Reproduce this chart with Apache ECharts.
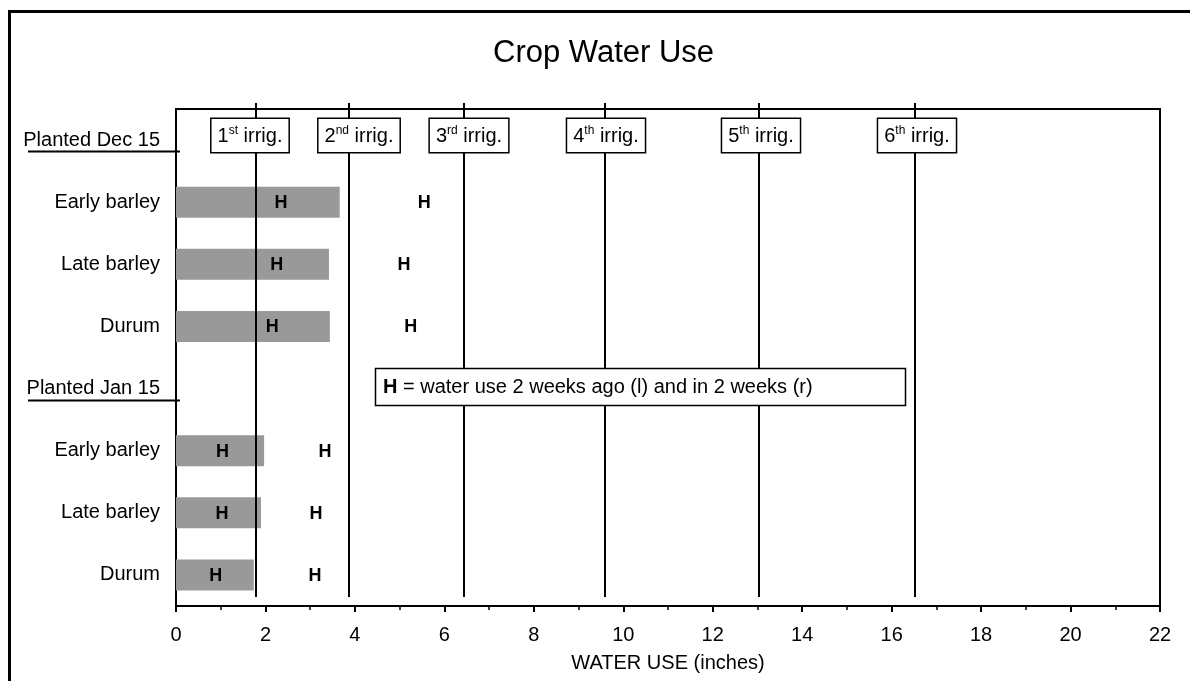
<!DOCTYPE html>
<html>
<head>
<meta charset="utf-8">
<title>Crop Water Use</title>
<script src="https://cdn.jsdelivr.net/npm/echarts@6/dist/echarts.min.js"></script>
<style>
  html, body { margin: 0; padding: 0; background: #fff; }
  #chart { width: 1190px; height: 681px; }
</style>
</head>
<body>
<div id="chart"></div>
<script>
  // rows from top to bottom; the "Planted" rows are group headers with no bar
  const rowLabels = [
    "Planted Dec 15", "Early barley", "Late barley", "Durum",
    "Planted Jan 15", "Early barley", "Late barley", "Durum"
  ];
  const headerRows = [0, 4];

  // water use to date (inches)
  const waterUseNow = [null, 3.66, 3.42, 3.44, null, 1.97, 1.90, 1.74];
  // "H" marks: water use 2 weeks ago (left) and in 2 weeks (right)
  const useTwoWeeksAgo = [null, 2.35, 2.25, 2.15, null, 1.04, 1.03, 0.89];
  const useInTwoWeeks = [null, 5.55, 5.10, 5.25, null, 3.33, 3.13, 3.11];

  // irrigation thresholds (inches)
  const irrigations = [1.79, 3.87, 6.45, 9.59, 13.03, 16.53];
  const irrigNumbers = ["1", "2", "3", "4", "5", "6"];
  const irrigSuffixes = ["st", "nd", "rd", "th", "th", "th"];

  const xTicks = [0, 2, 4, 6, 8, 10, 12, 14, 16, 18, 20, 22];

  const FONT = "'Liberation Sans', Arial, sans-serif";
  // small horizontal nudges of the irrigation boxes relative to their lines (px)
  const boxNudge = [-6, 10, 5, 1, 2, 2];

  const chart = echarts.init(document.getElementById("chart"), null, { renderer: "canvas" });

  function markPoints(values) {
    const out = [];
    values.forEach((v, i) => {
      if (v !== null) {
        out.push([v, i]);
      }
    });
    return out;
  }

  function renderH(params, api) {
    const pt = api.coord([api.value(0), api.value(1)]);
    return {
      type: "text",
      style: {
        text: "H",
        x: pt[0],
        y: pt[1] + 1,
        align: "center",
        verticalAlign: "middle",
        font: "bold 18px " + FONT,
        fill: "#000"
      }
    };
  }

  const option = {
    animation: false,
    backgroundColor: "#fff",
    title: {
      text: "Crop Water Use",
      left: 488,
      top: 33,
      textStyle: { fontFamily: FONT, fontSize: 31, fontWeight: "normal", color: "#000" }
    },
    grid: {
      left: 176,
      right: 30,
      top: 109,
      bottom: 75,
      show: true,
      borderColor: "#000",
      borderWidth: 2,
      backgroundColor: "transparent"
    },
    xAxis: {
      type: "value",
      min: xTicks[0],
      max: xTicks[xTicks.length - 1],
      interval: 2,
      name: "WATER USE (inches)",
      nameLocation: "middle",
      nameGap: 47,
      nameTextStyle: { fontFamily: FONT, fontSize: 20, color: "#000" },
      axisLine: { show: true, lineStyle: { color: "#000", width: 2 } },
      axisTick: { show: true, length: 6, lineStyle: { color: "#000", width: 2 } },
      minorTick: { show: true, splitNumber: 2, length: 4, lineStyle: { color: "#000", width: 1.5 } },
      axisLabel: { fontFamily: FONT, fontSize: 20, color: "#000", margin: 19 },
      splitLine: { show: false }
    },
    yAxis: {
      type: "category",
      inverse: true,
      data: rowLabels,
      axisLine: { show: true, lineStyle: { color: "#000", width: 2 } },
      axisTick: { show: false },
      axisLabel: { fontFamily: FONT, fontSize: 20, color: "#000", margin: 16 },
      splitLine: { show: false }
    },
    series: [
      {
        name: "Water use",
        type: "bar",
        data: waterUseNow,
        barWidth: 31,
        itemStyle: { color: "#999999" },
        z: 2
      },
      {
        name: "Irrigations",
        type: "custom",
        clip: false,
        z: 3,
        data: irrigations.map((v, i) => [v, i]),
        renderItem(params, api) {
          const cs = params.coordSys;
          const i = api.value(1);
          const x = Math.round(api.coord([api.value(0), 0])[0]);
          return {
            type: "group",
            children: [
              {
                type: "line",
                shape: { x1: x, y1: cs.y - 6, x2: x, y2: cs.y + cs.height - 9 },
                style: { stroke: "#000", lineWidth: 2 }
              },
              {
                type: "text",
                style: {
                  text: irrigNumbers[i] + "{s|" + irrigSuffixes[i] + "} irrig.",
                  x: x + boxNudge[i],
                  y: cs.y + 10,
                  align: "center",
                  verticalAlign: "top",
                  font: "20px " + FONT,
                  fill: "#000",
                  lineHeight: 23,
                  backgroundColor: "#fff",
                  borderColor: "#000",
                  borderWidth: 1.5,
                  padding: [6, 6, 4, 6],
                  rich: {
                    s: { fontSize: 12, fontFamily: FONT, lineHeight: 12, verticalAlign: "top", fill: "#000" }
                  }
                }
              }
            ]
          };
        }
      },
      {
        name: "Header underline",
        type: "custom",
        clip: false,
        z: 3,
        data: headerRows.map((r) => [0, r]),
        renderItem(params, api) {
          const cs = params.coordSys;
          const y = Math.round(api.coord([0, api.value(1)])[1]) + 11.5;
          return {
            type: "line",
            shape: { x1: cs.x - 148, y1: y, x2: cs.x + 4, y2: y },
            style: { stroke: "#000", lineWidth: 2 }
          };
        }
      },
      {
        name: "2 weeks ago",
        type: "custom",
        z: 4,
        data: markPoints(useTwoWeeksAgo),
        renderItem: renderH
      },
      {
        name: "In 2 weeks",
        type: "custom",
        z: 4,
        data: markPoints(useInTwoWeeks),
        renderItem: renderH
      }
    ],
    graphic: [
      {
        type: "rect",
        z: 100,
        shape: { x: 9.5, y: 11.5, width: 1300, height: 800 },
        style: { fill: "none", stroke: "#000", lineWidth: 3 }
      },
      {
        type: "rect",
        z: 100,
        shape: { x: 375.5, y: 368.5, width: 530, height: 37 },
        style: { fill: "#fff", stroke: "#000", lineWidth: 1.5 }
      },
      {
        type: "text",
        z: 101,
        x: 383,
        y: 387,
        style: {
          text: "{b|H} = water use 2 weeks ago (l) and in 2 weeks (r)",
          font: "20px " + FONT,
          fill: "#000",
          verticalAlign: "middle",
          rich: { b: { fontWeight: "bold", fontSize: 20, fontFamily: FONT, fill: "#000" } }
        }
      }
    ]
  };

  chart.setOption(option);

  window.addEventListener("resize", () => {
    chart.resize();
  });
</script>
</body>
</html>
